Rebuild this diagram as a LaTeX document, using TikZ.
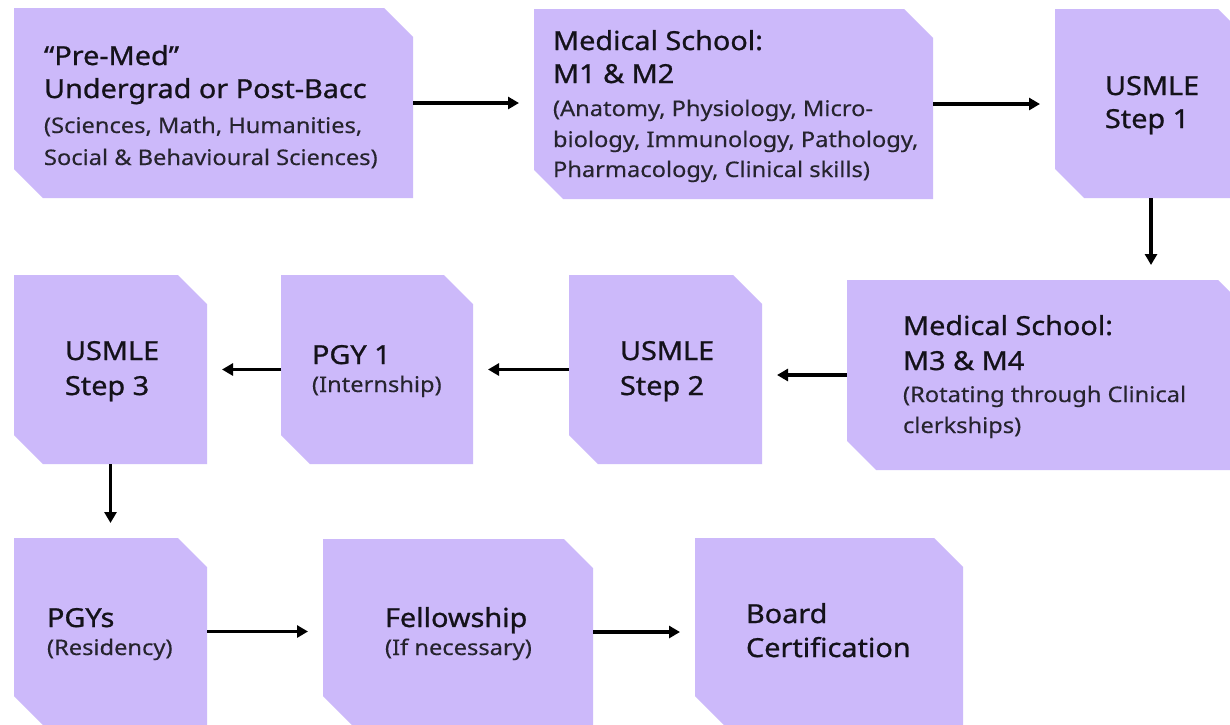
\documentclass[tikz,border=0pt]{standalone}
\usepackage{fontspec}
\setmainfont{Noto Sans}[FakeStretch=1.1]
\newfontfamily\ttlfont{Noto Sans}[FakeStretch=1.1,FakeBold=0.9]
\newfontfamily\subfont{Noto Sans}[FakeStretch=1.1,FakeBold=0.3]
\usetikzlibrary{arrows.meta,fit}
\definecolor{boxcol}{RGB}{204,185,250}
\definecolor{titlecol}{RGB}{20,18,26}
\definecolor{subcol}{RGB}{38,36,46}
\newcommand\mycut{29}
% name, x1, y1, x2, y2
\newcommand\chbox[5]{%
  \fill[boxcol] (#2,#3) -- ({#4-\mycut},#3) -- (#4,{#3+\mycut}) -- (#4,#5)
    -- ({#2+\mycut},#5) -- (#2,{#5-\mycut}) -- cycle;
  \node[fit={(#2,#3) (#4,#5)}, inner sep=0pt, outer sep=0pt] (#1) {};}
\begin{document}
\begin{tikzpicture}[x=1pt,y=-1pt,
  ttl/.style={anchor=base west, inner sep=0pt, outer sep=0pt,
    font=\ttlfont\fontsize{26.2}{30}\selectfont, text=titlecol},
  sub/.style={anchor=base west, inner sep=0pt, outer sep=0pt,
    font=\subfont\fontsize{21.5}{26}\selectfont, text=subcol},
  flow/.style={line width=3.2pt, draw=black,
    -{Triangle[length=11pt,width=12pt]}, shorten >=15pt}]
\useasboundingbox (0,0) rectangle (1230,724);
\clip (0,0) rectangle (1230,724);
\fill[white] (0,0) rectangle (1230,724);

% boxes
\chbox{b1}{14}{8}{413}{198}
\chbox{b2}{534}{9}{933}{199}
\chbox{b3}{1055}{9}{1247}{198}
\chbox{b4}{847}{280}{1247}{470}
\chbox{b5}{569}{275}{762}{464}
\chbox{b6}{281}{275}{473}{464}
\chbox{b7}{14}{275}{207}{464}
\chbox{b8}{14}{538}{207}{725}
\chbox{b9}{323}{539}{593}{725}
\chbox{b10}{695}{538}{963}{725}

% texts
\node[ttl] (t1a) at (44,65) {“Pre-Med”};
\node[ttl] (t1b) at (44,98) {Undergrad or Post-Bacc};
\node[sub] (t1c) at (44,133) {(Sciences, Math, Humanities,};
\node[sub] (t1d) at (44,165) {Social \& Behavioural Sciences)};

\node[ttl] (t2a) at (553,50) {Medical School:};
\node[ttl] (t2b) at (553,83) {M1 \& M2};
\node[sub] (t2c) at (553,116) {(Anatomy, Physiology, Micro-};
\node[sub] (t2d) at (553,147) {biology, Immunology, Pathology,};
\node[sub] (t2e) at (553,177) {Pharmacology, Clinical skills)};

\node[ttl] (t3a) at (1105,95) {USMLE};
\node[ttl] (t3b) at (1105,128) {Step 1};

\node[ttl] (t4a) at (903,335) {Medical School:};
\node[ttl] (t4b) at (903,370) {M3 \& M4};
\node[sub] (t4c) at (903,402) {(Rotating through Clinical};
\node[sub] (t4d) at (903,433) {clerkships)};

\node[ttl] (t5a) at (620,360) {USMLE};
\node[ttl] (t5b) at (620,395) {Step 2};

\node[ttl] (t6a) at (312,364) {PGY 1};
\node[sub] (t6b) at (312,392) {(Internship)};

\node[ttl] (t7a) at (65,360) {USMLE};
\node[ttl] (t7b) at (65,395) {Step 3};

\node[ttl] (t8a) at (47,627) {PGYs};
\node[sub] (t8b) at (47,655) {(Residency)};

\node[ttl] (t9a) at (385,627) {Fellowship};
\node[sub] (t9b) at (385,655) {(If necessary)};

\node[ttl] (t10a) at (746,623) {Board};
\node[ttl] (t10b) at (746,657) {Certification};

% connectors
\draw[flow] (b1.east) -- (b1.east -| b2.west);
\draw[flow] (b2.east) -- (b2.east -| b3.west);
\draw[flow] (b3.south) -- (b3.south |- b4.north);
\draw[flow] (b4.west) -- (b4.west -| b5.east);
\draw[flow] (b5.west) -- (b5.west -| b6.east);
\draw[flow] (b6.west) -- (b6.west -| b7.east);
\draw[flow] (b7.south) -- (b7.south |- b8.north);
\draw[flow] (b8.east) -- (b8.east -| b9.west);
\draw[flow] (b9.east) -- (b9.east -| b10.west);
\end{tikzpicture}
\end{document}
